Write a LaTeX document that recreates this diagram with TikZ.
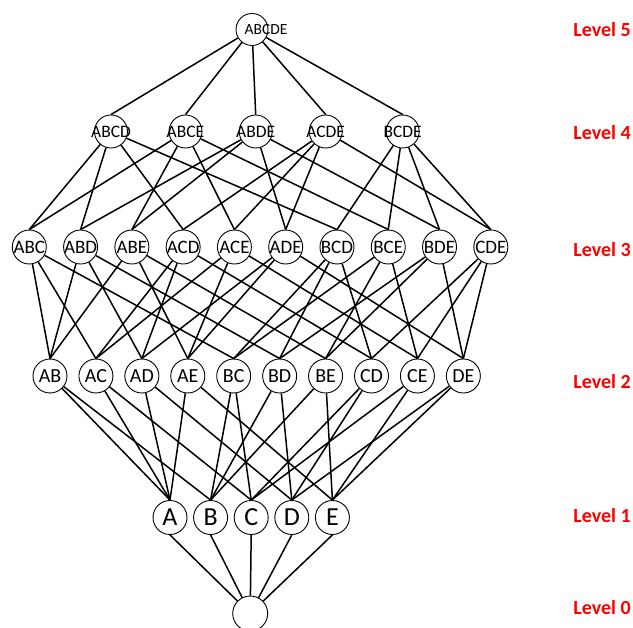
\documentclass[tikz,border=0pt]{standalone}
\usepackage{fontspec}
\setmainfont{Carlito}
\tikzset{
  vtx/.style={circle, draw, line width=.9pt, minimum size=34pt, inner sep=0pt},
  link/.style={line width=1.5pt},
  lvl/.style={anchor=east, inner sep=0pt, text=red, font=\fontsize{20}{24}\selectfont\bfseries}
}
\newcommand{\vtxtext}[1]{\makebox[0pt]{#1}}
\begin{document}
\begin{tikzpicture}[x=1pt, y=-1pt]
\useasboundingbox (0,0) rectangle (633,628);

\node[vtx, minimum size=32pt, font=\fontsize{15.5}{18}\selectfont] (ABCDE) at (252,29.5) {\vtxtext{\hspace*{28pt}ABCDE}};

\begin{scope}[every node/.append style={font=\fontsize{17.5}{20}\selectfont}]
\node[vtx, minimum size=33pt] (ABCD) at (111,131.5) {\vtxtext{ABCD}};
\node[vtx, minimum size=33pt] (ABCE) at (185.5,131.5) {\vtxtext{ABCE}};
\node[vtx, minimum size=33pt] (ABDE) at (255.7,131.5) {\vtxtext{ABDE}};
\node[vtx, minimum size=33pt] (ACDE) at (325.7,131.5) {\vtxtext{ACDE}};
\node[vtx, minimum size=33pt] (BCDE) at (402.7,131.5) {\vtxtext{BCDE}};
\end{scope}

\foreach \n [count=\i from 0] in {ABC,ABD,ABE,ACD,ACE,ADE,BCD,BCE,BDE,CDE}
  \node[vtx, font=\fontsize{19}{22}\selectfont] (\n) at ({29.3+51.28*\i},247) {\vtxtext{\n}};

\foreach \n [count=\i from 0] in {AB,AC,AD,AE,BC,BD,BE,CD,CE,DE}
  \node[vtx, font=\fontsize{20}{24}\selectfont] (\n) at ({50+45.93*\i},376) {\vtxtext{\n}};

\foreach \n [count=\i from 0] in {A,B,C,D,E}
  \node[vtx, font=\fontsize{26}{30}\selectfont] (\n) at ({170+40.6*\i},517.5) {\vtxtext{\n}};

\node[vtx, minimum size=35pt] (empty) at (250.2,613.5) {};

% level 5 -> 4
\foreach \l in {ABCD,ABCE,ABDE,ACDE,BCDE}
  \draw[link] (ABCDE) -- (\l.north);

% level 4 -> 3
\foreach \u/\ls in {ABCD/{ABC,ABD,ACD,BCD}, ABCE/{ABC,ABE,ACE,BCE},
    ABDE/{ABD,ABE,ADE,BDE}, ACDE/{ACD,ACE,ADE,CDE}, BCDE/{BCD,BCE,BDE,CDE}}
  \foreach \l in \ls
    \draw[link] (\u) -- (\l.north);

% level 3 -> 2
\foreach \u/\ls in {ABC/{AB,AC,BC}, ABD/{AB,AD,BD}, ABE/{AB,AE,BE},
    ACD/{AC,AD,CD}, ACE/{AC,AE,CE}, ADE/{AD,AE,DE}, BCD/{BC,BD,CD},
    BCE/{BC,BE,CE}, BDE/{BD,BE,DE}, CDE/{CD,CE,DE}}
  \foreach \l in \ls
    \draw[link] (\u) -- (\l.north);

% level 2 -> 1
\foreach \u/\a/\b in {AB/A/B, AC/A/C, AD/A/D, AE/A/E, BC/B/C,
    BD/B/D, BE/B/E, CD/C/D, CE/C/E, DE/D/E}
  \draw[link] (\a.north) -- (\u) -- (\b.north);

% level 1 -> 0
\foreach \u in {A,B,C,D,E}
  \draw[link] (\u.south) -- (empty);

% levels
\node[lvl] (lv5) at (631,30) {Level 5};
\node[lvl] (lv4) at (631,133) {Level 4};
\node[lvl] (lv3) at (631,250) {Level 3};
\node[lvl] (lv2) at (631,382) {Level 2};
\node[lvl] (lv1) at (631,516) {Level 1};
\node[lvl] (lv0) at (631,608) {Level 0};
\end{tikzpicture}
\end{document}
